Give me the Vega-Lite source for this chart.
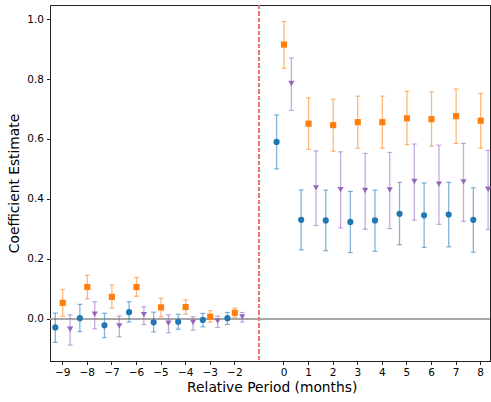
{
  "$schema": "https://vega.github.io/schema/vega-lite/v6.json",
  "width": 440,
  "height": 356,
  "autosize": "none",
  "padding": {"left": 50, "top": 5, "right": 1, "bottom": 41},
  "background": "white",
  "config": {
    "font": "DejaVu Sans",
    "view": {"stroke": "#222", "strokeWidth": 1},
    "axis": {
      "labelFont": "DejaVu Sans",
      "titleFont": "DejaVu Sans",
      "labelFontSize": 10.5,
      "titleFontSize": 13.8,
      "titleFontWeight": "normal",
      "labelColor": "#000",
      "titleColor": "#000",
      "tickColor": "#222",
      "tickSize": 3.5,
      "domainColor": "#222",
      "gridColor": "#e6e6e6",
      "gridWidth": 1,
      "labelPadding": 3
    }
  },
  "data": {
    "values": [
      {"period": -9, "group": "Spec 1", "est": -0.029, "lo": -0.079, "hi": 0.019},
      {"period": -9, "group": "Spec 2", "est": 0.053, "lo": 0.008, "hi": 0.098},
      {"period": -9, "group": "Spec 3", "est": -0.035, "lo": -0.088, "hi": 0.013},
      {"period": -8, "group": "Spec 1", "est": 0.002, "lo": -0.043, "hi": 0.048},
      {"period": -8, "group": "Spec 2", "est": 0.106, "lo": 0.066, "hi": 0.145},
      {"period": -8, "group": "Spec 3", "est": 0.015, "lo": -0.034, "hi": 0.057},
      {"period": -7, "group": "Spec 1", "est": -0.022, "lo": -0.063, "hi": 0.018},
      {"period": -7, "group": "Spec 2", "est": 0.073, "lo": 0.036, "hi": 0.113},
      {"period": -7, "group": "Spec 3", "est": -0.024, "lo": -0.06, "hi": 0.009},
      {"period": -6, "group": "Spec 1", "est": 0.022, "lo": -0.011, "hi": 0.057},
      {"period": -6, "group": "Spec 2", "est": 0.106, "lo": 0.075, "hi": 0.138},
      {"period": -6, "group": "Spec 3", "est": 0.014, "lo": -0.019, "hi": 0.04},
      {"period": -5, "group": "Spec 1", "est": -0.012, "lo": -0.044, "hi": 0.022},
      {"period": -5, "group": "Spec 2", "est": 0.038, "lo": 0.006, "hi": 0.068},
      {"period": -5, "group": "Spec 3", "est": -0.015, "lo": -0.047, "hi": 0.013},
      {"period": -4, "group": "Spec 1", "est": -0.01, "lo": -0.035, "hi": 0.015},
      {"period": -4, "group": "Spec 2", "est": 0.039, "lo": 0.015, "hi": 0.063},
      {"period": -4, "group": "Spec 3", "est": -0.012, "lo": -0.038, "hi": 0.007},
      {"period": -3, "group": "Spec 1", "est": -0.004, "lo": -0.027, "hi": 0.018},
      {"period": -3, "group": "Spec 2", "est": 0.007, "lo": -0.011, "hi": 0.027},
      {"period": -3, "group": "Spec 3", "est": -0.008, "lo": -0.029, "hi": 0.009},
      {"period": -2, "group": "Spec 1", "est": 0.002, "lo": -0.019, "hi": 0.021},
      {"period": -2, "group": "Spec 2", "est": 0.02, "lo": 0.005, "hi": 0.036},
      {"period": -2, "group": "Spec 3", "est": 0.006, "lo": -0.011, "hi": 0.021},
      {"period": 0, "group": "Spec 1", "est": 0.59, "lo": 0.5, "hi": 0.68},
      {"period": 0, "group": "Spec 2", "est": 0.915, "lo": 0.836, "hi": 0.992},
      {"period": 0, "group": "Spec 3", "est": 0.785, "lo": 0.695, "hi": 0.87},
      {"period": 1, "group": "Spec 1", "est": 0.33, "lo": 0.23, "hi": 0.43},
      {"period": 1, "group": "Spec 2", "est": 0.651, "lo": 0.565, "hi": 0.737},
      {"period": 1, "group": "Spec 3", "est": 0.437, "lo": 0.311, "hi": 0.56},
      {"period": 2, "group": "Spec 1", "est": 0.328, "lo": 0.227, "hi": 0.429},
      {"period": 2, "group": "Spec 2", "est": 0.646, "lo": 0.559, "hi": 0.733},
      {"period": 2, "group": "Spec 3", "est": 0.431, "lo": 0.303, "hi": 0.557},
      {"period": 3, "group": "Spec 1", "est": 0.323, "lo": 0.221, "hi": 0.425},
      {"period": 3, "group": "Spec 2", "est": 0.656, "lo": 0.569, "hi": 0.743},
      {"period": 3, "group": "Spec 3", "est": 0.428, "lo": 0.299, "hi": 0.552},
      {"period": 4, "group": "Spec 1", "est": 0.328, "lo": 0.225, "hi": 0.429},
      {"period": 4, "group": "Spec 2", "est": 0.656, "lo": 0.569, "hi": 0.743},
      {"period": 4, "group": "Spec 3", "est": 0.43, "lo": 0.301, "hi": 0.555},
      {"period": 5, "group": "Spec 1", "est": 0.35, "lo": 0.247, "hi": 0.455},
      {"period": 5, "group": "Spec 2", "est": 0.669, "lo": 0.581, "hi": 0.759},
      {"period": 5, "group": "Spec 3", "est": 0.458, "lo": 0.329, "hi": 0.583},
      {"period": 6, "group": "Spec 1", "est": 0.345, "lo": 0.238, "hi": 0.453},
      {"period": 6, "group": "Spec 2", "est": 0.666, "lo": 0.576, "hi": 0.757},
      {"period": 6, "group": "Spec 3", "est": 0.449, "lo": 0.315, "hi": 0.579},
      {"period": 7, "group": "Spec 1", "est": 0.348, "lo": 0.24, "hi": 0.455},
      {"period": 7, "group": "Spec 2", "est": 0.676, "lo": 0.585, "hi": 0.767},
      {"period": 7, "group": "Spec 3", "est": 0.457, "lo": 0.325, "hi": 0.585},
      {"period": 8, "group": "Spec 1", "est": 0.33, "lo": 0.222, "hi": 0.437},
      {"period": 8, "group": "Spec 2", "est": 0.661, "lo": 0.569, "hi": 0.752},
      {"period": 8, "group": "Spec 3", "est": 0.432, "lo": 0.298, "hi": 0.562}
    ]
  },
  "encoding": {
    "x": {
      "field": "period",
      "type": "ordinal",
      "sort": null,
      "scale": {
        "type": "band",
        "domain": [-9, -8, -7, -6, -5, -4, -3, -2, -1, 0, 1, 2, 3, 4, 5, 6, 7, 8],
        "range": [0, 443.4],
        "paddingInner": 0,
        "paddingOuter": 0.0165
      },
      "axis": {
        "title": "Relative Period (months)",
        "labelAngle": 0,
        "bandPosition": 0.5,
        "labelExpr": "datum.value == -1 ? '' : replace(datum.label, '-', '\u2212')",
        "tickOpacity": {"condition": {"test": "datum.value == -1", "value": 0}, "value": 1},
        "gridOpacity": {"condition": {"test": "datum.value == -1", "value": 0}, "value": 1},
        "titlePadding": 2
      }
    },
    "xOffset": {
      "field": "group",
      "type": "nominal",
      "scale": {"domain": ["Spec 1", "Spec 2", "Spec 3"], "paddingInner": 0, "paddingOuter": 0.16}
    },
    "color": {
      "field": "group",
      "type": "nominal",
      "scale": {"domain": ["Spec 1", "Spec 2", "Spec 3"], "range": ["#1f77b4", "#ff7f0e", "#9467bd"]},
      "legend": null
    }
  },
  "layer": [
    {
      "mark": {"type": "rule", "color": "#a8a8a8", "strokeWidth": 1.2},
      "encoding": {"y": {"datum": 0, "type": "quantitative"}, "x": null, "xOffset": null, "color": null}
    },
    {
      "mark": {"type": "rule", "color": "#ee7777", "strokeWidth": 1, "strokeDash": [4, 2.5], "opacity": 0.6},
      "encoding": {"x": {"datum": -1, "type": "ordinal", "bandPosition": 0.5}, "xOffset": null, "color": null}
    },
    {
      "mark": {"type": "rule", "strokeWidth": 1.3, "opacity": 0.55},
      "encoding": {
        "y": {
          "field": "lo",
          "type": "quantitative",
          "scale": {"domain": [-0.141, 1.047], "nice": false, "zero": false},
          "axis": {
            "title": "Coefficient Estimate",
            "values": [0, 0.2, 0.4, 0.6, 0.8, 1.0],
            "format": ".1f",
            "titlePadding": 5
          }
        },
        "y2": {"field": "hi"}
      }
    },
    {
      "mark": {"type": "tick", "orient": "horizontal", "size": 5, "thickness": 1.2, "opacity": 0.55},
      "encoding": {"y": {"field": "lo", "type": "quantitative"}}
    },
    {
      "mark": {"type": "tick", "orient": "horizontal", "size": 5, "thickness": 1.2, "opacity": 0.55},
      "encoding": {"y": {"field": "hi", "type": "quantitative"}}
    },
    {
      "mark": {"type": "point", "filled": true, "opacity": 1},
      "encoding": {
        "y": {"field": "est", "type": "quantitative"},
        "shape": {
          "field": "group",
          "type": "nominal",
          "scale": {"domain": ["Spec 1", "Spec 2", "Spec 3"], "range": ["circle", "square", "triangle-down"]},
          "legend": null
        },
        "size": {
          "field": "group",
          "type": "nominal",
          "scale": {"domain": ["Spec 1", "Spec 2", "Spec 3"], "range": [38, 38, 58]},
          "legend": null
        }
      }
    }
  ]
}
